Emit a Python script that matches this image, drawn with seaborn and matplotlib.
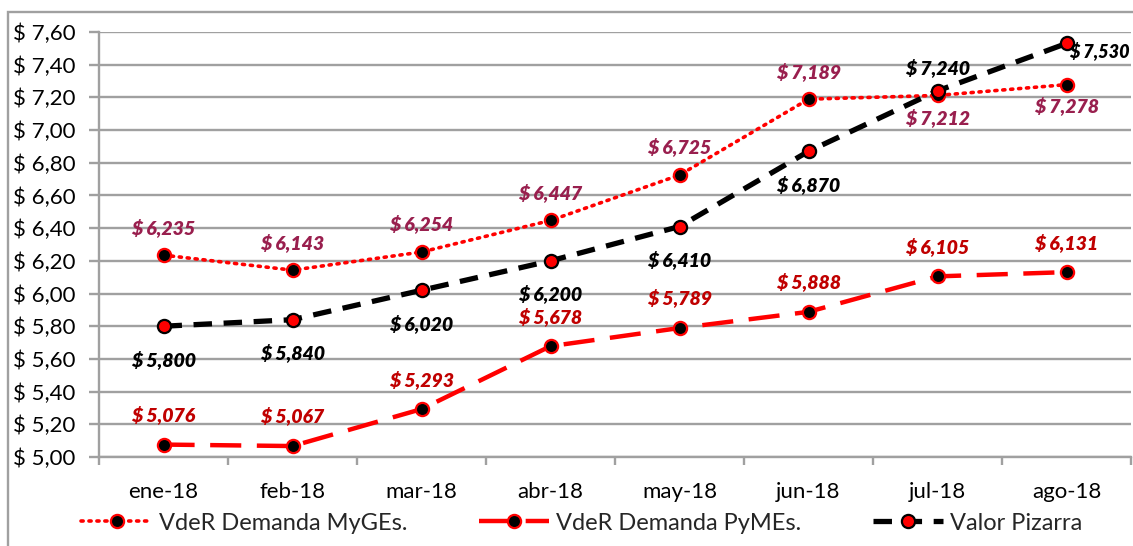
import matplotlib
matplotlib.use("Agg")
import matplotlib.pyplot as plt
import matplotlib.patches as patches
from matplotlib.ticker import FuncFormatter, MultipleLocator, FixedLocator
import seaborn as sns
import pandas as pd

months = ["ene-18", "feb-18", "mar-18", "abr-18", "may-18", "jun-18", "jul-18", "ago-18"]
myges = [6.235, 6.143, 6.254, 6.447, 6.725, 7.189, 7.212, 7.278]
pymes = [5.076, 5.067, 5.293, 5.678, 5.789, 5.888, 6.105, 6.131]
pizarra = [5.800, 5.840, 6.020, 6.200, 6.410, 6.870, 7.240, 7.530]

# label offsets in pixels (dx, dy), positive dy = up
off_myges = [(0, 28)] * 6 + [(0, -22), (0, -21)]
off_pymes = [(0, 30)] * 8
off_pizarra = [(0, -33)] * 6 + [(0, 23), (3, -7)]

sns.set_theme(style="white")
plt.rcParams["font.family"] = ["Lato", "DejaVu Sans"]

fig = plt.figure(figsize=(11.33, 5.46), dpi=100)
ax = fig.add_axes([99 / 1133, 1 - 457 / 546, 1032 / 1133, 425 / 546])

df = pd.DataFrame({"mes": range(len(months)), "myges": myges, "pymes": pymes, "pizarra": pizarra})

sns.lineplot(data=df, x="mes", y="myges", ax=ax, color="#FF0000", lw=2.6,
             linestyle=(0, (0.6, 1.6)), dash_capstyle="round",
             marker="o", markersize=9.5, markerfacecolor="black",
             markeredgecolor="#FF0000", markeredgewidth=1.6,
             label="VdeR Demanda MyGEs.", zorder=3)
sns.lineplot(data=df, x="mes", y="pymes", ax=ax, color="#FF0000", lw=3.2,
             linestyle=(0, (7, 3.5)),
             marker="o", markersize=9.5, markerfacecolor="black",
             markeredgecolor="#FF0000", markeredgewidth=1.6,
             label="VdeR Demanda PyMEs.", zorder=3)
sns.lineplot(data=df, x="mes", y="pizarra", ax=ax, color="black", lw=3.8,
             linestyle=(0, (3.5, 2.2)),
             marker="o", markersize=9.5, markerfacecolor="#FF0000",
             markeredgecolor="black", markeredgewidth=1.6,
             label="Valor Pizarra", zorder=4)


def fmt(v):
    return "$ " + f"{v:.3f}".replace(".", ",")


for vals, offs, col in [(myges, off_myges, "#991F4E"),
                        (pymes, off_pymes, "#C00000"),
                        (pizarra, off_pizarra, "black")]:
    for i, (v, (dx, dy)) in enumerate(zip(vals, offs)):
        ha = "left" if dx > 0 else "center"
        size = 13 if dx > 0 else 14
        ax.annotate(fmt(v), (i, v), xytext=(dx, dy), textcoords="offset pixels",
                    ha=ha, va="center", fontsize=size, fontweight="heavy",
                    fontstyle="italic", color=col, zorder=5)

ax.set_xlim(-0.5, 7.5)
ax.set_ylim(5.0, 7.6)
ax.yaxis.set_major_locator(MultipleLocator(0.2))
ax.yaxis.set_major_formatter(FuncFormatter(lambda v, p: "$ " + f"{v:.2f}".replace(".", ",")))
ax.set_xticks(range(len(months)))
ax.set_xticklabels(months)
ax.xaxis.set_minor_locator(FixedLocator([i - 0.5 for i in range(len(months) + 1)]))
ax.set_xlabel("")
ax.set_ylabel("")

ax.grid(axis="y", color="#A0A0A0", lw=1.7)
ax.set_axisbelow(True)
for s in ["top", "right"]:
    ax.spines[s].set_visible(False)
for s in ["left", "bottom"]:
    ax.spines[s].set_color("#A0A0A0")
    ax.spines[s].set_linewidth(1.7)

ax.tick_params(axis="y", which="major", left=True, length=7, width=1.7, color="#A0A0A0",
               labelsize=16, pad=10, labelcolor="black")
ax.tick_params(axis="x", which="major", bottom=False, labelsize=16, pad=12, labelcolor="black")
ax.tick_params(axis="x", which="minor", bottom=True, length=6, width=1.7, color="#A0A0A0")

ax.legend_.remove()
h, l = ax.get_legend_handles_labels()
fig.legend(h, l, loc="center", bbox_to_anchor=(582 / 1133, 1 - 523 / 546), ncol=3,
           frameon=False, fontsize=17, handlelength=3.0, columnspacing=3.0,
           handletextpad=0.3)

fig.patches.append(patches.Rectangle((8 / 1133, -0.01), 1.2, 1 - 12 / 546 + 0.01,
                                     transform=fig.transFigure, fill=False,
                                     edgecolor="#A0A0A0", lw=1.7, zorder=0))

fig.savefig("out.png", dpi=100)
